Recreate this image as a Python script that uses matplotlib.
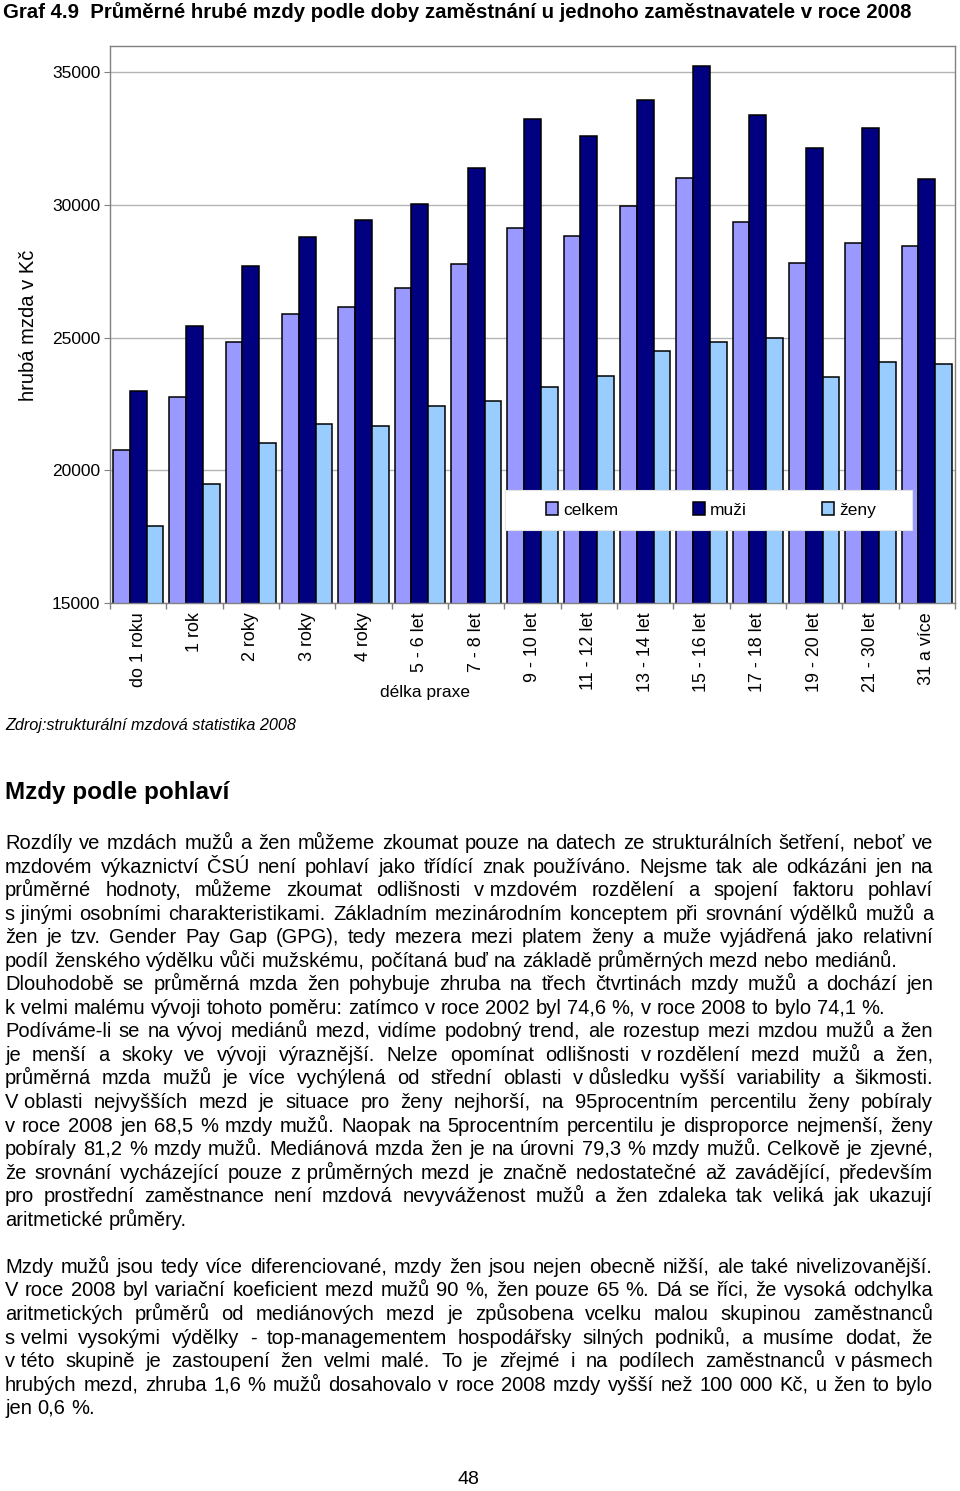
import numpy as np
import matplotlib.pyplot as plt
from matplotlib.patches import Rectangle
from matplotlib.font_manager import FontProperties
from matplotlib.transforms import IdentityTransform

plt.rcParams['font.family'] = ['Liberation Sans', 'DejaVu Sans']

# data
categories = ['do 1 roku', '1 rok', '2 roky', '3 roky', '4 roky', '5 - 6 let', '7 - 8 let',
              '9 - 10 let', '11 - 12 let', '13 - 14 let', '15 - 16 let', '17 - 18 let',
              '19 - 20 let', '21 - 30 let', '31 a více']
celkem = [20750, 22760, 24850, 25880, 26160, 26880, 27790, 29140, 28840, 29960,
          31000, 29350, 27820, 28560, 28460]
muzi = [22970, 25440, 27700, 28800, 29430, 30050, 31400, 33230, 32610, 33940,
        35230, 33380, 32130, 32890, 30980]
zeny = [17900, 19490, 21040, 21740, 21680, 22440, 22630, 23150, 23550, 24480,
        24830, 24990, 23530, 24090, 24010]
series_names = ['celkem', 'muži', 'ženy']
series_colors = ['#9999FF', '#000080', '#99CCFF']
y_ticks = [15000, 20000, 25000, 30000, 35000]

title = 'Graf 4.9  Průměrné hrubé mzdy podle doby zaměstnání u jednoho zaměstnavatele v roce 2008'
y_label = 'hrubá mzda v Kč'
x_label = 'délka praxe'
source = 'Zdroj:strukturální mzdová statistika 2008'
heading = 'Mzdy podle pohlaví'
page_no = '48'

NB = '\u00a0'
blocks = [
    ['Rozdíly ve mzdách mužů a žen můžeme zkoumat pouze na datech ze strukturálních šetření, neboť ve',
     'mzdovém výkaznictví ČSÚ není pohlaví jako třídící znak používáno. Nejsme tak ale odkázáni jen na',
     'průměrné hodnoty, můžeme zkoumat odlišnosti v' + NB + 'mzdovém rozdělení a spojení faktoru pohlaví',
     's' + NB + 'jinými osobními charakteristikami. Základním mezinárodním konceptem při srovnání výdělků mužů a',
     'žen je tzv. Gender Pay Gap (GPG), tedy mezera mezi platem ženy a muže vyjádřená jako relativní',
     'podíl ženského výdělku vůči mužskému, počítaná buď na základě průměrných mezd nebo mediánů.'],
    ['Dlouhodobě se průměrná mzda žen pohybuje zhruba na třech čtvrtinách mzdy mužů a dochází jen',
     'k' + NB + 'velmi malému vývoji tohoto poměru: zatímco v roce 2002 byl 74,6 %, v roce 2008 to bylo 74,1 %.'],
    ['Podíváme-li se na vývoj mediánů mezd, vidíme podobný trend, ale rozestup mezi mzdou mužů a žen',
     'je menší a skoky ve vývoji výraznější. Nelze opomínat odlišnosti v' + NB + 'rozdělení mezd mužů a žen,',
     'průměrná mzda mužů je více vychýlená od střední oblasti v' + NB + 'důsledku vyšší variability a šikmosti.',
     'V' + NB + 'oblasti nejvyšších mezd je situace pro ženy nejhorší, na 95procentním percentilu ženy pobíraly',
     'v roce 2008 jen 68,5 % mzdy mužů. Naopak na 5procentním percentilu je disproporce nejmenší, ženy',
     'pobíraly 81,2 % mzdy mužů. Mediánová mzda žen je na úrovni 79,3 % mzdy mužů. Celkově je zjevné,',
     'že srovnání vycházející pouze z' + NB + 'průměrných mezd je značně nedostatečné až zavádějící, především',
     'pro prostřední zaměstnance není mzdová nevyváženost mužů a žen zdaleka tak veliká jak ukazují',
     'aritmetické průměry.'],
    [],
    ['Mzdy mužů jsou tedy více diferenciované, mzdy žen jsou nejen obecně nižší, ale také nivelizovanější.',
     'V roce 2008 byl variační koeficient mezd mužů 90 %, žen pouze 65 %. Dá se říci, že vysoká odchylka',
     'aritmetických průměrů od mediánových mezd je způsobena vcelku malou skupinou zaměstnanců',
     's' + NB + 'velmi vysokými výdělky - top-managementem hospodářsky silných podniků, a musíme dodat, že',
     'v' + NB + 'této skupině je zastoupení žen velmi malé. To je zřejmé i na podílech zaměstnanců v' + NB + 'pásmech',
     'hrubých mezd, zhruba 1,6 % mužů dosahovalo v roce 2008 mzdy vyšší než 100 000 Kč, u žen to bylo',
     'jen 0,6 %.'],
]

W, H = 960, 1491
fig = plt.figure(figsize=(W / 100, H / 100), dpi=100)
fig.patch.set_facecolor('white')
renderer = fig.canvas.get_renderer()


def fx(px):
    return px / W


def fy(py):
    return 1 - py / H


def text_width(s, **kw):
    t = fig.text(0, 0, s, **kw)
    w = t.get_window_extent(renderer).width
    t.remove()
    return w


# --- graf ---
ax = fig.add_axes([fx(110), fy(603), 845 / W, (603 - 45.7) / H])
x = np.arange(len(categories))
bw = 0.296
for k, (vals, name, col) in enumerate(zip([celkem, muzi, zeny], series_names, series_colors)):
    ax.bar(x + (k - 1) * bw, vals, bw, color=col, edgecolor='black', linewidth=1.1,
           label=name, zorder=2)

ax.set_xlim(-0.5, len(categories) - 0.5)
ax.set_ylim(15000, 36000)
ax.set_yticks(y_ticks)
ax.yaxis.grid(True, color='#B4B4B4', linewidth=1.0)
ax.set_axisbelow(True)
ax.set_xticks(x)
ax.set_xticklabels(categories, rotation=90, va='top', ha='center', fontsize=12.9)
ax.set_xticks(np.arange(len(categories) + 1) - 0.5, minor=True)
ax.tick_params(axis='x', which='major', length=0, pad=6.5)
ax.tick_params(axis='x', which='minor', length=4, color='#808080', width=1)
ax.tick_params(axis='y', length=4, color='#808080', labelsize=12.5, pad=3)
for s in ax.spines.values():
    s.set_color('#808080')
    s.set_linewidth(1.0)

ax.add_patch(Rectangle((0.467, 0.131), 0.482, 0.0715, transform=ax.transAxes,
                       facecolor='white', edgecolor='#E4E4E4', linewidth=0.8, zorder=4))
leg = ax.legend(loc='center', bbox_to_anchor=(0.711, 0.1669), ncol=3, frameon=False,
                fontsize=12.5, handlelength=0.7, handleheight=0.7, handletextpad=0.3,
                columnspacing=4.3)
leg.set_zorder(5)

fig.text(fx(29), fy(325), y_label, rotation=90, ha='center', va='center', fontsize=14.5)
fig.text(fx(425), fy(692), x_label, ha='center', va='center', fontsize=12.5)

# --- nadpis a texty ---
title_size = 14 * 912 / text_width(title, fontsize=14, fontweight='bold')
fig.text(fx(3), fy(12), title, ha='left', va='center', fontsize=title_size, fontweight='bold')
fig.text(fx(5), fy(725), source, ha='left', va='center', fontsize=11.7, style='italic')
fig.text(fx(5), fy(793), heading, ha='left', va='center', fontsize=17.5, fontweight='bold')
fig.text(fx(468), fy(1480), page_no, ha='center', va='center', fontsize=14)

# zarovnany text do bloku, po slovech
X0, X1 = 5, 933
ref_line = blocks[1][1]
body_size = 14 * 885 / text_width(ref_line, fontsize=14)
body_prop = FontProperties(family=['Liberation Sans', 'DejaVu Sans'], size=body_size)
space_w = (text_width('a a', fontproperties=body_prop)
           - text_width('aa', fontproperties=body_prop))

# ucari kousek nad celym pixelem, aby carka (descent x.5 px) nezaokrouhlovala slovo dolu
line_y0, line_step, base_off, eps = 843, 23.55, 6, 0.02
row = 0
for block in blocks:
    if not block:
        row += 1
        continue
    for i, line in enumerate(block):
        words = line.split(' ')
        target = int(round(line_y0 + row * line_step + base_off))
        arts = [fig.text(0, H - target + eps, w, ha='left', va='baseline',
                         fontproperties=body_prop, transform=IdentityTransform())
                for w in words]
        widths = [a.get_window_extent(renderer).width for a in arts]
        justify = i < len(block) - 1 and len(words) > 1
        gap = (X1 - X0 - sum(widths)) / (len(words) - 1) if justify else space_w
        xpos = X0
        for a, wd in zip(arts, widths):
            a.set_x(xpos)
            xpos += wd + gap
        row += 1

fig.savefig('out.png', dpi=100, facecolor='white')
